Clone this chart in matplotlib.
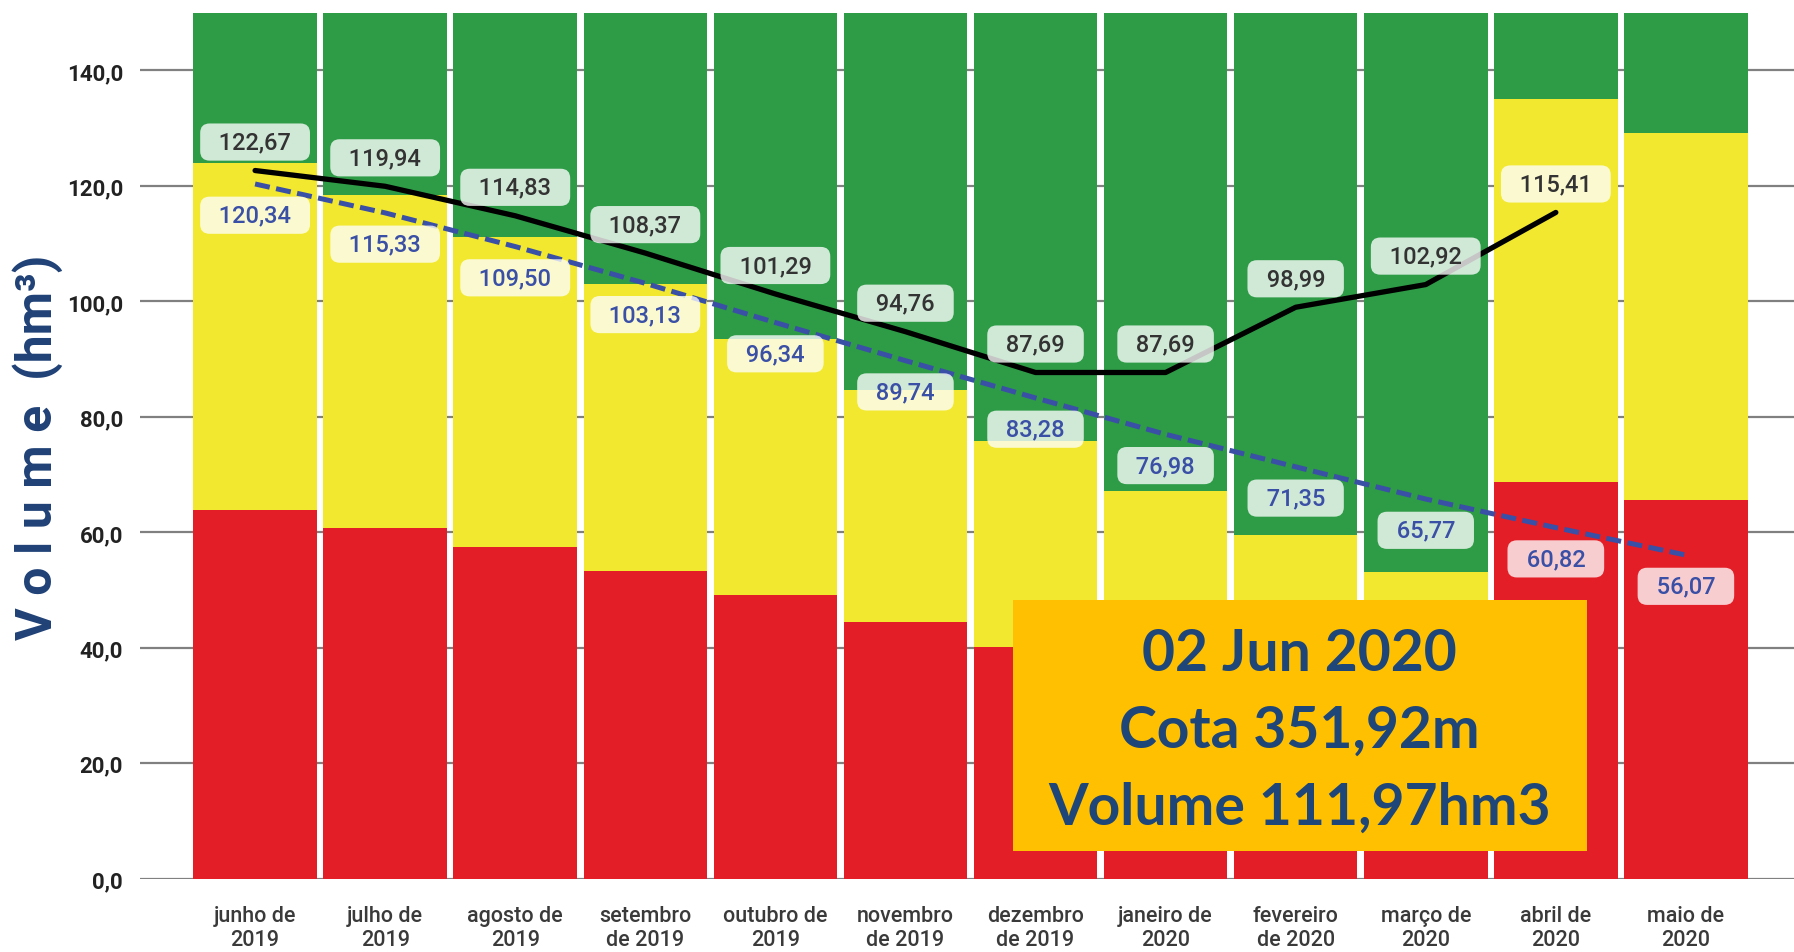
import matplotlib
matplotlib.use('Agg')
from matplotlib import pyplot as plt
from matplotlib.patches import Rectangle
from matplotlib.ticker import FuncFormatter

months = ['junho de\n2019', 'julho de\n2019', 'agosto de\n2019', 'setembro\nde 2019',
          'outubro de\n2019', 'novembro\nde 2019', 'dezembro\nde 2019', 'janeiro de\n2020',
          'fevereiro\nde 2020', 'março de\n2020', 'abril de\n2020', 'maio de\n2020']
# bar zones (upper limit of each colour band, hm3)
red_top = [63.8, 60.8, 57.4, 53.3, 49.1, 44.4, 40.2, 36.0, 32.0, 28.0, 68.7, 65.6]
yellow_top = [124.0, 118.5, 111.2, 103.0, 93.5, 84.7, 75.9, 67.1, 59.6, 53.2, 135.0, 129.1]
green_top = [150.0, 150.0, 150.0, 150.0, 150.0, 150.0, 150.0, 150.0, 150.0, 150.0, 150.0, 150.0]
# measured volume (black) and target curve (blue dashed)
volume = [122.67, 119.94, 114.83, 108.37, 101.29, 94.76, 87.69, 87.69, 98.99, 102.92, 115.41]
meta = [120.34, 115.33, 109.50, 103.13, 96.34, 89.74, 83.28, 76.98, 71.35, 65.77, 60.82, 56.07]
yticks = [0, 20, 40, 60, 80, 100, 120, 140]
info_lines = ['02 Jun 2020', 'Cota 351,92m', 'Volume 111,97hm3']

RED = '#e31e27'
YELLOW = '#f1e82f'
GREEN = '#2e9b47'
BLUE = '#3a4fa6'
NAVY = '#1f4176'

plt.rcParams['font.family'] = ['Roboto', 'DejaVu Sans']

fig = plt.figure(figsize=(17.94, 9.53), dpi=100)
ax = fig.add_axes([0.0778, 0.0768, 0.9222, 0.9088])

x = list(range(len(months)))
w = 0.95
ax.bar(x, red_top, width=w, color=RED, zorder=2)
ax.bar(x, [y - r for y, r in zip(yellow_top, red_top)], bottom=red_top, width=w, color=YELLOW, zorder=2)
ax.bar(x, [g - y for g, y in zip(green_top, yellow_top)], bottom=yellow_top, width=w, color=GREEN, zorder=2)

xv = x[:len(volume)]
ax.plot(xv, volume, color='black', lw=3.8, zorder=3, solid_capstyle='round')
ax.plot(x, meta, color=BLUE, lw=3.6, ls=(0, (3, 1.3)), zorder=3)

def fmt2(v):
    return f'{v:.2f}'.replace('.', ',')

box = dict(boxstyle='round,pad=0.3,rounding_size=0.4', fc=(1, 1, 1, 0.78), ec='none')
for xi, v in zip(xv, volume):
    ax.annotate('  ' + fmt2(v) + '  ', (xi, v), xytext=(0, 20.5), textcoords='offset points',
                ha='center', va='center', fontsize=17, color='#333333', fontweight='medium',
                bbox=box, zorder=4)
for xi, v in zip(x, meta):
    ax.annotate('  ' + fmt2(v) + '  ', (xi, v), xytext=(0, -22.5), textcoords='offset points',
                ha='center', va='center', fontsize=17, color=BLUE, fontweight='medium',
                bbox=box, zorder=4)

ax.set_xlim(-0.888, 11.831)
ax.set_ylim(0, 150)
ax.set_yticks(yticks)
ax.yaxis.set_major_formatter(FuncFormatter(lambda v, p: f'{v:.1f}'.replace('.', ',')))
ax.set_xticks(x)
ax.set_xticklabels(months, fontsize=15.5, color='#3a3a3a', fontweight='medium', linespacing=1.2)
ax.tick_params(axis='x', length=0, pad=19)
ax.tick_params(axis='y', length=0, pad=12, labelsize=16, labelcolor='#222222')
for lab in ax.get_yticklabels():
    lab.set_fontweight('bold')
ax.yaxis.grid(True, color='#808080', lw=1.6)
ax.set_axisbelow(True)
for s in ax.spines.values():
    s.set_visible(False)

fig.text(0.021, 0.531, 'V o l u m e  (hm³)', rotation=90, ha='center', va='center',
         fontsize=36, color=NAVY, fontweight='bold')

# info box
ax.add_patch(Rectangle((0.5277, 0.0317), 0.3471, 0.2906, transform=ax.transAxes,
                       facecolor='#fec000', edgecolor='none', zorder=6))
for yy, t in zip([0.2605, 0.1710, 0.0830], info_lines):
    ax.text(0.7012, yy, t, transform=ax.transAxes, ha='center', va='center',
            fontsize=41, fontweight='bold', color='#1f4678', family=['Lato', 'DejaVu Sans'], zorder=7)

fig.savefig('out.png', dpi=100)
